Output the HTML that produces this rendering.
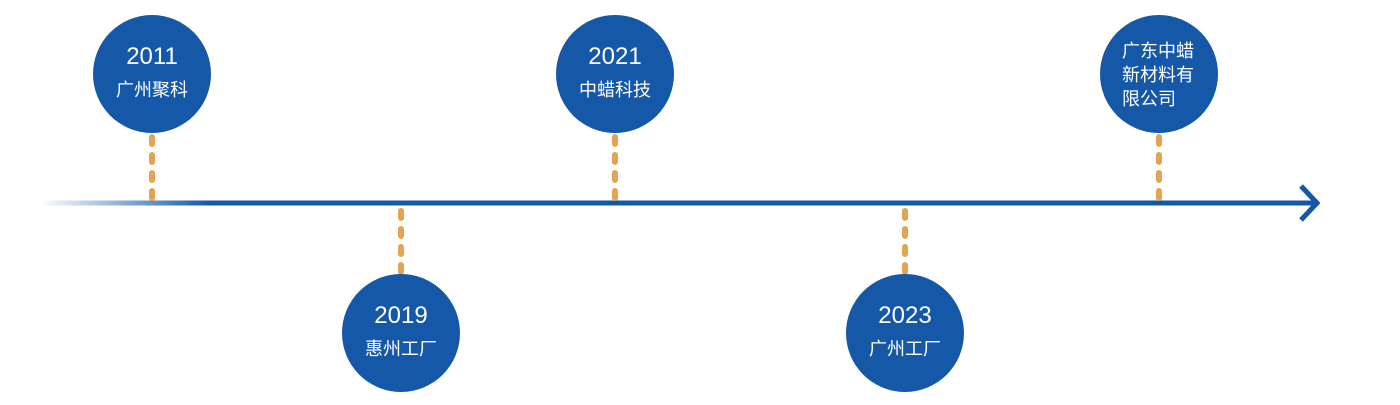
<!DOCTYPE html>
<html><head><meta charset="utf-8"><style>
body{margin:0;width:1400px;height:400px;background:#fff;overflow:hidden}
svg text{font-family:"Liberation Sans","Noto Sans CJK SC",sans-serif;fill:#fff}
</style></head><body>
<svg width="1400" height="400" viewBox="0 0 1400 400">
<defs><linearGradient id="g" x1="40" x2="210" y1="0" y2="0" gradientUnits="userSpaceOnUse">
<stop offset="0" stop-color="#1558a8" stop-opacity="0"/><stop offset="1" stop-color="#1558a8"/></linearGradient></defs>
<rect x="40" y="200.5" width="1276" height="5" fill="url(#g)"/>
<rect x="210" y="200.5" width="1106" height="5" fill="#1558a8"/>
<polyline points="1301,186 1317,203 1301,220" fill="none" stroke="#1558a8" stroke-width="5"/>
<g stroke="#e3a650" stroke-width="6" stroke-linecap="round" stroke-dasharray="7 11">
<line x1="152" y1="137" x2="152" y2="200"/>
<line x1="615" y1="137" x2="615" y2="200"/>
<line x1="1159" y1="137" x2="1159" y2="200"/>
<line x1="401" y1="211" x2="401" y2="272"/>
<line x1="905" y1="211" x2="905" y2="272"/>
</g>
<g fill="#1558a8">
<circle cx="152" cy="74" r="59"/><circle cx="615" cy="74" r="59"/><circle cx="1159" cy="74" r="59"/>
<circle cx="401" cy="333" r="59"/><circle cx="905" cy="333" r="59"/>
</g>
<g text-anchor="middle">
<text x="152" y="64" font-size="24">2011</text><text x="152" y="96" font-size="18">广州聚科</text>
<text x="615" y="64" font-size="24">2021</text><text x="615" y="96" font-size="18">中蜡科技</text>
<text x="401" y="323" font-size="24">2019</text><text x="401" y="355" font-size="18">惠州工厂</text>
<text x="905" y="323" font-size="24">2023</text><text x="905" y="355" font-size="18">广州工厂</text>
</g>
<g font-size="18">
<text x="1122" y="57">广东中蜡</text>
<text x="1122" y="81">新材料有</text>
<text x="1122" y="105">限公司</text>
</g>
</svg>
</body></html>
